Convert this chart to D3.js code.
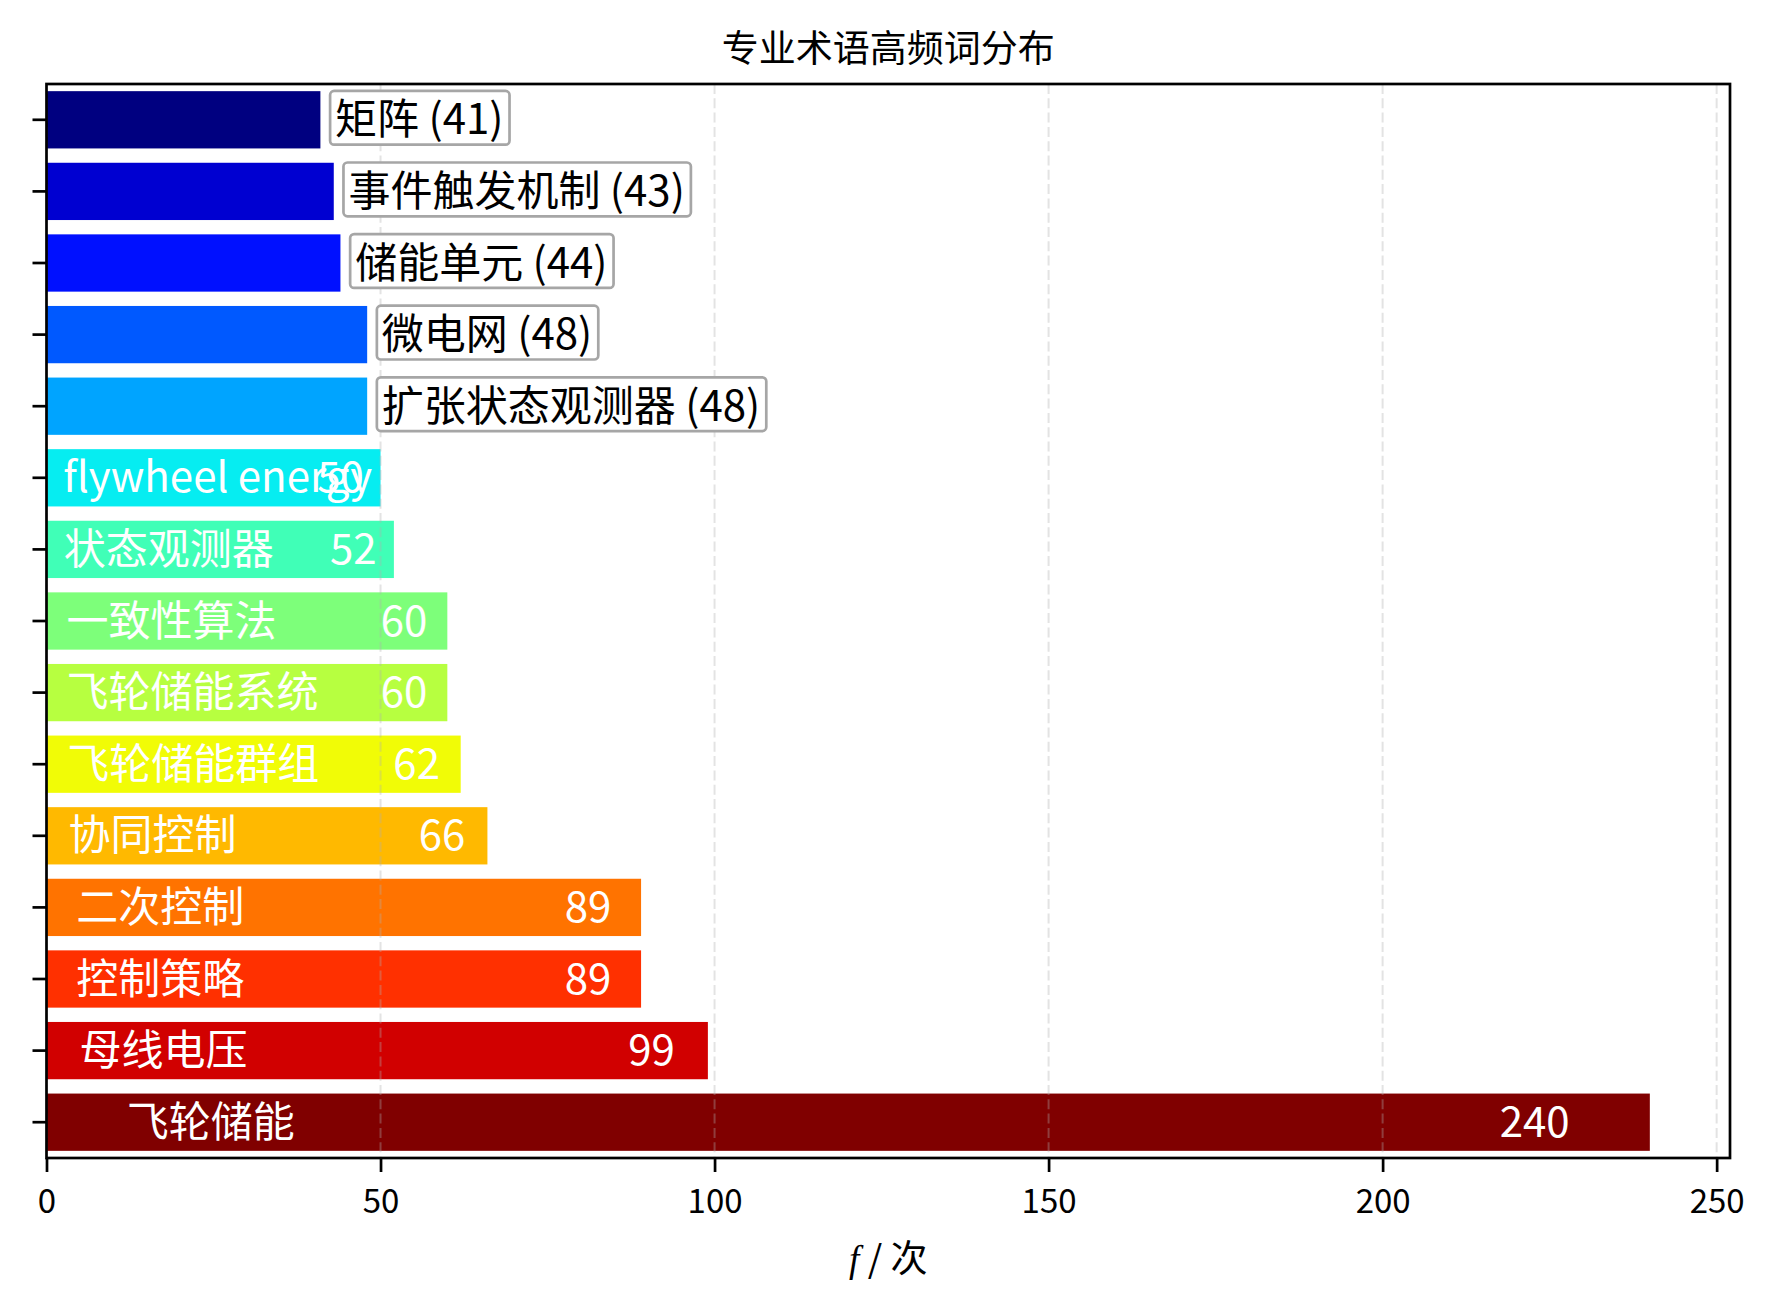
<!DOCTYPE html>
<html>
<head>
<meta charset="utf-8">
<script src="https://cdn.jsdelivr.net/npm/d3@7"></script>
<style>
  html, body { margin: 0; padding: 0; background: #fff; }
  svg { display: block; font-family: "Noto Sans CJK SC", "Noto Sans", sans-serif; }
</style>
</head>
<body>
<script>
// ---- data (top to bottom, as drawn) ----
const categories = ["矩阵", "事件触发机制", "储能单元", "微电网", "扩张状态观测器",
  "flywheel energy", "状态观测器", "一致性算法", "飞轮储能系统", "飞轮储能群组",
  "协同控制", "二次控制", "控制策略", "母线电压", "飞轮储能"];
const values = [41, 43, 44, 48, 48, 50, 52, 60, 60, 62, 66, 89, 89, 99, 240];
const xTicks = [0, 50, 100, 150, 200, 250];
const titleText = "专业术语高频词分布";
const xLabelVar = "f";
const xLabelUnit = " / 次";
const outsideThreshold = 50;

// ---- jet colormap (matplotlib segment data, 256-level LUT) ----
const jetSeg = {
  r: [[0, 0], [0.35, 0], [0.66, 1], [0.89, 1], [1, 0.5]],
  g: [[0, 0], [0.125, 0], [0.375, 1], [0.64, 1], [0.91, 0], [1, 0]],
  b: [[0, 0.5], [0.11, 1], [0.34, 1], [0.65, 0], [1, 0]]
};
function segInterp(seg, xv) {
  for (let k = 1; k < seg.length; k++) {
    if (xv <= seg[k][0]) {
      const [x0, y0] = seg[k - 1], [x1, y1] = seg[k];
      return y0 + (y1 - y0) * (xv - x0) / (x1 - x0);
    }
  }
  return seg[seg.length - 1][1];
}
function jet(t) {
  const idx = Math.min(255, Math.floor(t * 256));
  const xv = idx / 255;
  const c = v => Math.round(segInterp(v, xv) * 255);
  return `rgb(${c(jetSeg.r)},${c(jetSeg.g)},${c(jetSeg.b)})`;
}

// ---- layout ----
const W = 1776, H = 1312;
const mLeft = 46.5, mRight = 1730, mTop = 84, mBottom = 1158;
const svg = d3.select("body").append("svg").attr("width", W).attr("height", H);

const x = d3.scaleLinear().domain([0, 252]).range([mLeft, mRight]);
const y = d3.scaleBand().domain(categories).range([mTop, mBottom])
  .paddingInner(0.2).paddingOuter(0.1);
const color = d3.scaleOrdinal().domain(categories)
  .range(categories.map((_, i) => jet(i / (categories.length - 1))));

const data = categories.map((c, i) => ({ name: c, value: values[i] }));

// bars
svg.append("g").selectAll("rect").data(data).join("rect")
  .attr("x", x(0))
  .attr("y", d => y(d.name))
  .attr("width", d => x(d.value) - x(0))
  .attr("height", y.bandwidth())
  .attr("fill", d => color(d.name));

// grid (drawn over bars, semi-transparent)
svg.append("g").selectAll("line").data(xTicks).join("line")
  .attr("x1", d => x(d)).attr("x2", d => x(d))
  .attr("y1", mTop).attr("y2", mBottom)
  .attr("stroke", "#b0b0b0").attr("stroke-opacity", 0.35)
  .attr("stroke-width", 2).attr("stroke-dasharray", "10,4.3");

// axes
const xAxis = d3.axisBottom(x).tickValues(xTicks).tickSize(14).tickPadding(18);
const gx = svg.append("g").attr("transform", `translate(0,${mBottom})`).call(xAxis);
gx.select(".domain").remove();
gx.selectAll(".tick line").attr("stroke", "#000").attr("stroke-width", 2.7);
gx.selectAll(".tick text").attr("fill", "#000").attr("font-size", 33)
  .attr("font-family", "'Noto Sans CJK SC', sans-serif");

const yAxis = d3.axisLeft(y).tickSize(14).tickFormat("");
const gy = svg.append("g").attr("transform", `translate(${mLeft},0)`).call(yAxis);
gy.select(".domain").remove();
gy.selectAll(".tick line").attr("stroke", "#000").attr("stroke-width", 2.7);

// frame
svg.append("rect").attr("x", mLeft).attr("y", mTop)
  .attr("width", mRight - mLeft).attr("height", mBottom - mTop)
  .attr("fill", "none").attr("stroke", "#000").attr("stroke-width", 2.7);

// labels
const fs = 42;
const textShift = -4;
const labels = svg.append("g").attr("font-size", fs);
data.forEach(d => {
  const cy = y(d.name) + y.bandwidth() / 2;
  if (d.value < outsideThreshold) {
    const g = labels.append("g");
    const t = g.append("text")
      .attr("x", x(d.value + 2.2)).attr("y", cy + textShift)
      .attr("dominant-baseline", "central")
      .attr("fill", "#000")
      .text(`${d.name} (${d.value})`);
    const bb = t.node().getBBox();
    g.insert("rect", "text")
      .attr("x", bb.x - 5).attr("y", cy - 2 - fs * 0.64)
      .attr("width", bb.width + 11).attr("height", fs * 1.28)
      .attr("rx", 4).attr("ry", 4)
      .attr("fill", "#fff").attr("stroke", "#a6a6a6").attr("stroke-width", 2.7);
  } else {
    labels.append("text")
      .attr("x", x(d.value * 0.05)).attr("y", cy + textShift)
      .attr("dominant-baseline", "central")
      .attr("fill", "#fff")
      .text(d.name);
    labels.append("text")
      .attr("x", x(d.value * 0.95)).attr("y", cy + textShift)
      .attr("dominant-baseline", "central")
      .attr("text-anchor", "end")
      .attr("fill", "#fff")
      .text(d.value);
  }
});

// title
svg.append("text").attr("x", (mLeft + mRight) / 2).attr("y", 62)
  .attr("text-anchor", "middle").attr("font-size", 37).attr("fill", "#000")
  .text(titleText);

// x label
const xl = svg.append("text").attr("x", (mLeft + mRight) / 2).attr("y", 1272)
  .attr("text-anchor", "middle").attr("font-size", 37).attr("fill", "#000");
xl.append("tspan").attr("font-family", "'Liberation Serif', 'DejaVu Serif', serif")
  .attr("font-style", "italic").text(xLabelVar);
xl.append("tspan").text(xLabelUnit);
</script>
</body>
</html>
